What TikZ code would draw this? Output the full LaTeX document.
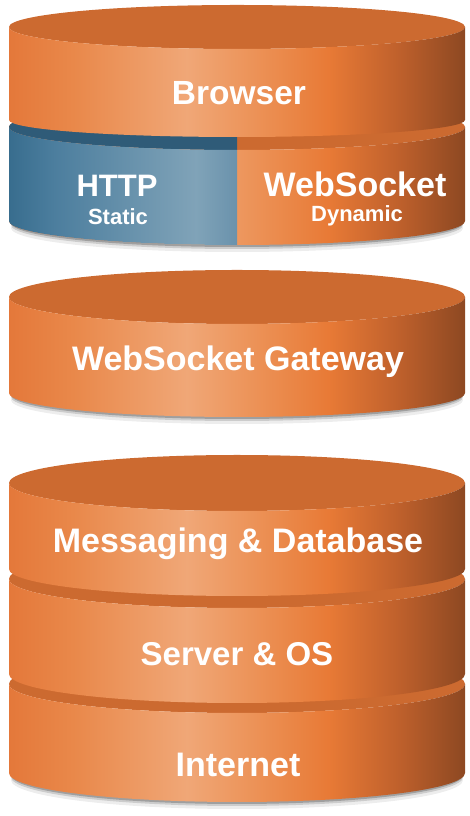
\documentclass[tikz,border=0pt]{standalone}
\usepackage{fontspec}
\newfontfamily\lblfont{Liberation Sans}

\definecolor{slabA}{HTML}{E4783A}
\definecolor{slabB}{HTML}{E9884A}
\definecolor{slabC}{HTML}{F0A777}
\definecolor{slabD}{HTML}{EC9257}
\definecolor{slabE}{HTML}{E87A36}
\definecolor{slabF}{HTML}{C0612C}
\definecolor{slabG}{HTML}{8D4822}
\definecolor{slabtop}{HTML}{CC6A30}
\definecolor{httpA}{HTML}{386D8E}
\definecolor{httpB}{HTML}{4C7E9E}
\definecolor{httpC}{HTML}{80A3B8}
\definecolor{httpD}{HTML}{6A92AC}
\definecolor{httptop}{HTML}{2F5B78}

\pgfdeclarehorizontalshading{slabside}{100bp}{color(0bp)=(slabA); color(25bp)=(slabA); color(32bp)=(slabB); color(44.5bp)=(slabC); color(52bp)=(slabD); color(60bp)=(slabE); color(67.5bp)=(slabF); color(75bp)=(slabG); color(100bp)=(slabG)}
\pgfdeclarehorizontalshading{httpside}{100bp}{color(0bp)=(httpA); color(25bp)=(httpA); color(35bp)=(httpB); color(66bp)=(httpC); color(75bp)=(httpD); color(100bp)=(httpD)}

% one disc: top y, bottom y, top y radius, bottom y radius (pixels from the top)
\newcommand{\slab}[4]{%
  \fill[slabtop] (237,{816-#1}) ellipse[x radius=228,y radius=#3]; % top face
  \shade[shading=slabside] (9,{816-#1}) arc[start angle=180,end angle=360,x radius=228,y radius=#3]
    -- (465,{816-#2}) arc[start angle=0,end angle=-180,x radius=228,y radius=#4] -- cycle; % side
}
% soft shadow under a disc: bottom y, y radius
\newcommand{\slabshadow}[2]{%
  \foreach \d/\o in {2/0.22,4/0.14,7/0.07}
    \fill[black,opacity=\o] (237,{816-#1-\d}) ellipse[x radius=226,y radius=#2];
}

\begin{document}
\begin{tikzpicture}[x=1pt,y=1pt,
    lbl/.style={text=white,anchor=base,inner sep=0pt,font=\lblfont\bfseries\fontsize{34}{36}\selectfont},
    sublbl/.style={text=white,anchor=base,inner sep=0pt,font=\lblfont\bfseries\fontsize{22}{24}\selectfont}]
    \useasboundingbox (0,0) rectangle (470,816);

    % Bottom stack
    \slabshadow{773}{29}
    \slab{684}{773}{29}{29} % Internet
    \slab{579}{674}{29}{29} % Server & OS
    \slab{483}{569}{28}{27} % Messaging & Database

    % Gateway
    \slabshadow{393}{24}
    \slab{297}{393}{27}{24}

    % Top stack
    \slabshadow{221}{24}
    \slab{127}{221}{23}{24} % HTTP / WebSocket
    \fill[httptop] (237,{816-127+23}) arc[start angle=90,end angle=270,x radius=228,y radius=23] -- cycle;
    \shade[shading=httpside] (9,{816-127}) arc[start angle=180,end angle=270,x radius=228,y radius=23]
      -- (237,{816-221-24}) arc[start angle=270,end angle=180,x radius=228,y radius=24] -- cycle; % blue half
    \slab{27}{120}{22}{17} % Browser

    % Labels
    \node[lbl,font=\lblfont\bfseries\fontsize{33.5}{36}\selectfont] (browser) at (239,{816-105}) {Browser};
    \node[lbl,font=\lblfont\bfseries\fontsize{31}{34}\selectfont] (http) at (117,{816-197}) {HTTP};
    \node[sublbl] (static) at (118,{816-225}) {Static};
    \node[lbl] (websocket) at (355,{816-197}) {WebSocket};
    \node[sublbl] (dynamic) at (357,{816-222}) {Dynamic};
    \node[lbl] (gateway) at (238,{816-371}) {WebSocket Gateway};
    \node[lbl] (messaging) at (238,{816-553}) {Messaging \& Database};
    \node[lbl,font=\lblfont\bfseries\fontsize{33}{36}\selectfont] (server) at (237,{816-666}) {Server \& OS};
    \node[lbl] (internet) at (238,{816-777}) {Internet};
\end{tikzpicture}
\end{document}
